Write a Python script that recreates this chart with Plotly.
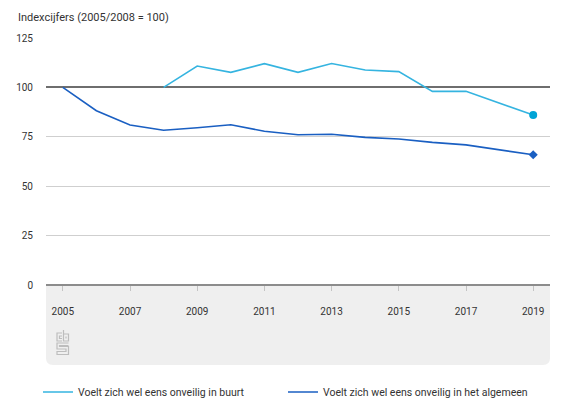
import plotly.graph_objects as go

years_buurt = [2008, 2009, 2010, 2011, 2012, 2013, 2014, 2015, 2016, 2017, 2019]
buurt = [100, 110.8, 107.6, 112.0, 107.6, 112.1, 108.8, 108.0, 98.0, 98.0, 86.0]
years_alg = [2005, 2006, 2007, 2008, 2009, 2010, 2011, 2012, 2013, 2014, 2015, 2016, 2017, 2019]
algemeen = [100, 88.2, 81.0, 78.3, 79.6, 81.1, 77.8, 76.0, 76.3, 74.7, 73.9, 72.2, 70.9, 65.9]
x_ticks = [2005, 2007, 2009, 2011, 2013, 2015, 2017, 2019]
y_ticks = [0, 25, 50, 75, 100, 125]
ref_value = [100]
name_buurt = "Voelt zich wel eens onveilig in buurt"
name_alg = "Voelt zich wel eens onveilig in het algemeen"
title_text = "Indexcijfers (2005/2008 = 100)"

FONT = "Liberation Sans Narrow, Roboto, Arial, sans-serif"
C_LIGHT = "#35b4e0"
C_DARK = "#1a5fc2"

W, H = 564, 404
L, R, T, B = 46, 550, 38, 285

def px(x):
    return (x - L) / (R - L)

def py(y):
    return (B - y) / (B - T)

fig = go.Figure()
fig.add_trace(go.Scatter(
    x=years_buurt, y=buurt, name=name_buurt, mode="lines",
    line=dict(color=C_LIGHT, width=1.6), showlegend=True))
fig.add_trace(go.Scatter(
    x=years_alg, y=algemeen, name=name_alg, mode="lines",
    line=dict(color=C_DARK, width=1.6), showlegend=True))
fig.add_trace(go.Scatter(
    x=[years_buurt[-1]], y=[buurt[-1]], mode="markers", yaxis="y2",
    marker=dict(color="#00a4d6", size=8, symbol="circle"), showlegend=False))
fig.add_trace(go.Scatter(
    x=[years_alg[-1]], y=[algemeen[-1]], mode="markers", yaxis="y2",
    marker=dict(color=C_DARK, size=7, symbol="diamond"), showlegend=False))

shapes = []
# grey band below the axis with rounded bottom corners
r = 7
x0, x1, y0, y1 = px(L), px(R), py(B), py(365)
rx, ry = r / (R - L), r / (B - T)
path = (f"M {x0},{y0} L {x1},{y0} L {x1},{y1 + ry} Q {x1},{y1} {x1 - rx},{y1} "
        f"L {x0 + rx},{y1} Q {x0},{y1} {x0},{y1 + ry} Z")
shapes.append(dict(type="path", xref="paper", yref="paper", path=path,
                   fillcolor="#efefef", line=dict(width=0), layer="below"))

# cbs logo (approximate glyph)
logo_paths = [
    [(62, 333), (57, 333), (57, 341), (62, 341)],
    [(62, 336), (59.5, 336), (59.5, 338.5), (62, 338.5)],
    [(63.5, 330), (63.5, 341), (68.5, 341), (68.5, 334), (63.5, 334)],
    [(66, 336.5), (66, 338.5)],
    [(68.5, 343), (57, 343), (57, 349), (66, 349), (66, 351.5), (57, 351.5), (57, 354.5), (68.5, 354.5), (68.5, 346.5), (59.5, 346.5), (59.5, 345.5), (68.5, 345.5)],
]
for pts in logo_paths:
    d = "M " + " L ".join(f"{px(a)},{py(b)}" for a, b in pts)
    shapes.append(dict(type="path", xref="paper", yref="paper", path=d,
                       line=dict(color="#bdbdbd", width=1.2)))

fig.update_layout(
    width=W, height=H,
    margin=dict(l=L, r=W - R, t=T, b=H - B, autoexpand=False),
    paper_bgcolor="white", plot_bgcolor="white",
    font=dict(family=FONT, size=11, color="#333333"),
    shapes=shapes,
    showlegend=True,
    legend=dict(orientation="h", xref="container", yref="container",
                x=38 / W, xanchor="left", y=1 - 392 / H, yanchor="middle",
                font=dict(family=FONT, size=10.5, color="#333333"),
                entrywidth=200, entrywidthmode="pixels", bgcolor="rgba(0,0,0,0)",
                itemclick=False),
    annotations=[dict(text=title_text, xref="paper", yref="paper",
                      x=px(16), y=py(18), xanchor="left", yanchor="middle",
                      showarrow=False, font=dict(family=FONT, size=11, color="#333333"))],
    yaxis=dict(range=[0, 125], tickvals=y_ticks, showgrid=True, gridcolor="#cfcfcf",
               gridwidth=1, zeroline=True, zerolinecolor="#8c8c8c", zerolinewidth=1.5,
               showline=False, ticks="", ticklabelstandoff=12,
               tickfont=dict(family=FONT, size=10, color="#333333")),
    yaxis2=dict(overlaying="y", range=[0, 125], tickvals=ref_value, showgrid=True,
                gridcolor="#6e6e6e", gridwidth=2, showticklabels=False, zeroline=False,
                showline=False, ticks="", side="left"),
)
fig.update_xaxes(range=[2004.5, 2019.5], tickvals=x_ticks, ticktext=[str(v) for v in x_ticks],
                 showgrid=False, zeroline=False, showline=False,
                 ticks="outside", ticklen=5, tickcolor="#c4c4c4", tickwidth=1,
                 ticklabelstandoff=12, tickfont=dict(family=FONT, size=10, color="#333333"))

fig.write_html("out.html", config={"displayModeBar": False},
               post_script="document.body.style.margin='0';")
